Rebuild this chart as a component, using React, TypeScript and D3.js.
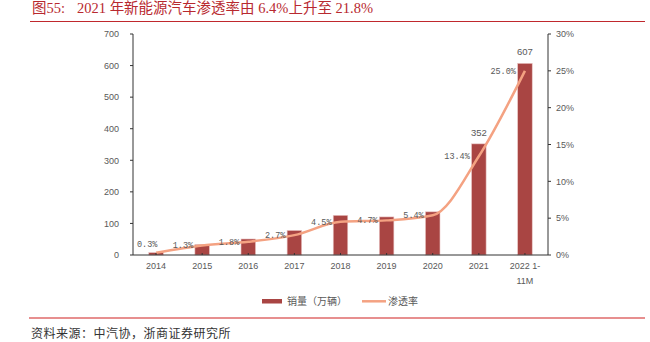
import React from "react";
import * as d3 from "d3";

const categories = ["2014", "2015", "2016", "2017", "2018", "2019", "2020", "2021", "2022 1-\n11M"];
const sales = [7.5, 33.1, 50.7, 77.7, 125.6, 120.6, 136.7, 352, 607];
const salesLabels = ["", "", "", "", "", "", "", "352", "607"];
const penetration = [0.3, 1.3, 1.8, 2.7, 4.5, 4.7, 5.4, 13.4, 25.0];
const leftTicks = [0, 100, 200, 300, 400, 500, 600, 700];
const rightTicks = [0, 5, 10, 15, 20, 25, 30];
const titlePrefix = "图55:";
const titleText = "2021 年新能源汽车渗透率由 6.4%上升至 21.8%";
const sourceText = "资料来源：中汽协，浙商证券研究所";
const legendBar = "销量（万辆）";
const legendLine = "渗透率";

const W = 650;
const H = 342;
const plot = { left: 133, right: 548, top: 34, bottom: 255 };
const BAR_COLOR = "#A94543";
const LINE_COLOR = "#F4A282";
const TEXT_GRAY = "#595959";
const TITLE_RED = "#B8292F";
const AXIS_FONT = "'Liberation Sans', Arial, sans-serif";
const CJK_FONT = "'Noto Sans CJK SC', sans-serif";

export default function App() {
  const x = d3
    .scaleBand<string>()
    .domain(categories)
    .range([plot.left, plot.right])
    .padding(0);
  const yL = d3.scaleLinear().domain([0, 700]).range([plot.bottom, plot.top]);
  const yR = d3.scaleLinear().domain([0, 30]).range([plot.bottom, plot.top]);
  const bw = x.bandwidth() * 0.315;
  const cx = (c: string) => (x(c) as number) + x.bandwidth() / 2;

  const linePath = d3
    .line<number>()
    .x((_, i) => cx(categories[i]))
    .y((d) => yR(d))
    .curve(d3.curveMonotoneX)(penetration) as string;

  return (
    <svg
      width={W}
      height={H}
      style={{ position: "absolute", left: 0, top: 0, background: "#fff" }}
    >
      {/* title */}
      <text x={32} y={13} fill={TITLE_RED} fontSize={14.5} fontFamily={"'Liberation Serif', " + CJK_FONT}>
        {titlePrefix}
      </text>
      <text x={77} y={13} fill={TITLE_RED} fontSize={14.5} fontFamily={"'Liberation Serif', " + CJK_FONT}>
        {titleText}
      </text>
      <line x1={30} x2={645} y1={21.5} y2={21.5} stroke="#C0282D" strokeWidth={1.2} />

      {/* bars */}
      {categories.map((c, i) => (
        <rect
          key={c}
          x={cx(c) - bw / 2}
          y={yL(sales[i])}
          width={bw}
          height={plot.bottom - yL(sales[i])}
          fill={BAR_COLOR}
          stroke="#E9C3C2"
          strokeWidth={0.6}
        />
      ))}
      {categories.map((c, i) =>
        salesLabels[i] ? (
          <text
            key={"sl" + c}
            x={cx(c)}
            y={yL(sales[i]) - 8}
            textAnchor="middle"
            fontSize={9.5}
            fill={TEXT_GRAY}
            fontFamily={AXIS_FONT}
          >
            {salesLabels[i]}
          </text>
        ) : null
      )}

      {/* line */}
      <path d={linePath} fill="none" stroke={LINE_COLOR} strokeWidth={2.5} strokeLinejoin="round" />
      {categories.map((c, i) => {
        const px = cx(c);
        let py = yR(penetration[i]);
        const label = penetration[i].toFixed(1) + "%";
        const w = label.length * 5.1;
        let end = px - 9;
        if (end - w < plot.left + 4) {
          end = plot.left + 4 + w;
          py -= 9;
        }
        return (
          <text
            key={"pl" + c}
            x={end}
            y={py + 3}
            textAnchor="end"
            fontSize={8.5}
            fill={TEXT_GRAY}
            fontFamily="'Liberation Mono', 'DejaVu Sans Mono', monospace"
          >
            {label}
          </text>
        );
      })}

      {/* axes */}
      <line x1={plot.left} x2={plot.left} y1={plot.top} y2={plot.bottom} stroke="#333" strokeWidth={1} />
      <line x1={plot.right} x2={plot.right} y1={plot.top} y2={plot.bottom} stroke="#333" strokeWidth={1} />
      <line x1={plot.left} x2={plot.right} y1={plot.bottom} y2={plot.bottom} stroke="#333" strokeWidth={1} />
      {leftTicks.map((t) => (
        <g key={"lt" + t}>
          <line x1={plot.left - 3} x2={plot.left} y1={yL(t)} y2={yL(t)} stroke="#333" />
          <text
            x={119}
            y={yL(t) + 3.3}
            textAnchor="end"
            fontSize={9}
            fill={TEXT_GRAY}
            fontFamily={AXIS_FONT}
          >
            {t}
          </text>
        </g>
      ))}
      {rightTicks.map((t) => (
        <g key={"rt" + t}>
          <line x1={plot.right} x2={plot.right + 3} y1={yR(t)} y2={yR(t)} stroke="#333" />
          <text x={556} y={yR(t) + 3.3} fontSize={9} fill={TEXT_GRAY} fontFamily={AXIS_FONT}>
            {t + "%"}
          </text>
        </g>
      ))}
      {categories.map((c) => (
        <g key={"xt" + c}>
          <line x1={cx(c)} x2={cx(c)} y1={plot.bottom} y2={plot.bottom - 2} stroke="#333" />
          <text textAnchor="middle" fontSize={9} fill={TEXT_GRAY} fontFamily={AXIS_FONT}>
            {c.split("\n").map((ln, j) => (
              <tspan key={j} x={cx(c)} y={269 + j * 15}>
                {ln}
              </tspan>
            ))}
          </text>
        </g>
      ))}

      {/* legend */}
      <rect x={262} y={299} width={20} height={4.5} fill={BAR_COLOR} />
      <text x={287} y={304.5} fontSize={10} fill={TEXT_GRAY} fontFamily={CJK_FONT}>
        {legendBar}
      </text>
      <line x1={362} x2={386} y1={301.3} y2={301.3} stroke={LINE_COLOR} strokeWidth={2.5} />
      <text x={388} y={304.5} fontSize={10} fill={TEXT_GRAY} fontFamily={CJK_FONT}>
        {legendLine}
      </text>

      {/* footer */}
      <line x1={29} x2={645} y1={318} y2={318} stroke="#D02020" strokeWidth={1.2} />
      <text x={31} y={337.5} fontSize={12} letterSpacing={0.5} fill="#333" fontFamily={CJK_FONT}>
        {sourceText}
      </text>
    </svg>
  );
}
